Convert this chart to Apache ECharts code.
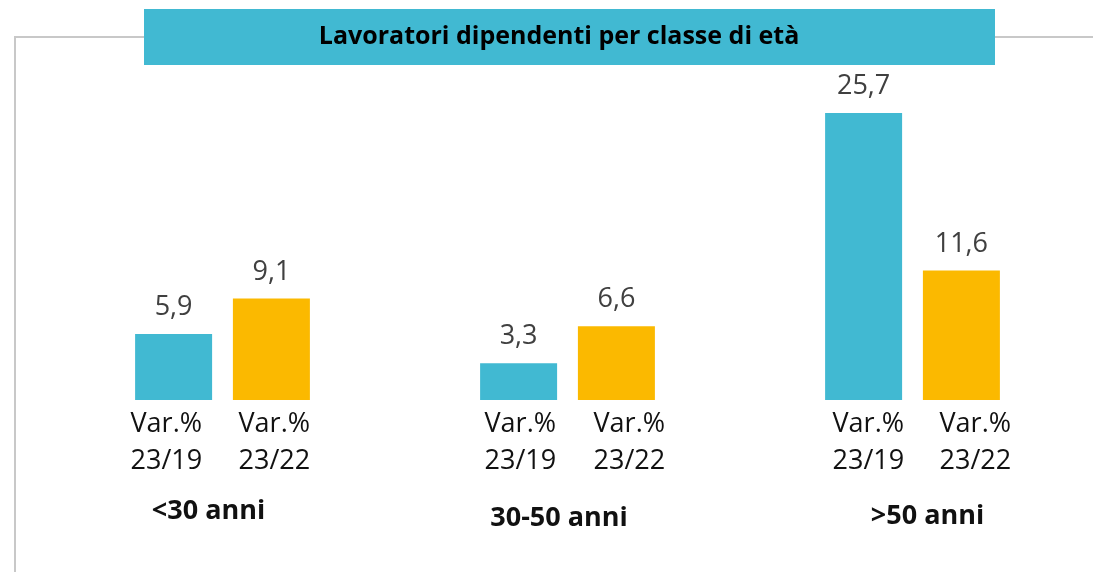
<!DOCTYPE html>
<html>
<head>
<meta charset="utf-8">
<script src="https://cdn.jsdelivr.net/npm/echarts@6/dist/echarts.min.js"></script>
<style>
  html, body { margin: 0; padding: 0; background: #fff; }
  #chart { width: 1093px; height: 572px; }
</style>
</head>
<body>
<div id="chart"></div>
<script>
// dati
const titleText = 'Lavoratori dipendenti per classe di età';
const categories = ['<30 anni', '30-50 anni', '>50 anni'];
const seriesNames = ['Var.%\n23/19', 'Var.%\n23/22'];
const var2319 = [5.9, 3.3, 25.7];
const var2322 = [9.1, 6.6, 11.6];

const TEAL = '#41B9D2';
const YELLOW = '#FBB900';
const FONT = 'Open Sans';

const chart = echarts.init(document.getElementById('chart'));

// etichetta del valore con la virgola decimale
const valueLabel = {
  show: true,
  position: 'top',
  distance: 13,
  fontFamily: FONT,
  fontSize: 27,
  color: '#404040',
  formatter: p => String(p.value).replace('.', ',')
};

// posizione delle colonne di testo sotto le barre, per gruppo
// [padding sinistro col. a, larghezza col. a, larghezza col. b]
const colLayout = [
  [6, 108, 82],
  [15, 109, 72],
  [18, 107, 71]
];
// spostamenti dei nomi di gruppo (come nell'originale)
const groupStyles = [
  { padding: [0, 28, 0, 0], lineHeight: 62 },
  { padding: [0, 17, 0, 0], lineHeight: 76 },
  { padding: [0, 0, 0, 30], lineHeight: 72 }
];

const txt = { fontFamily: FONT, fontSize: 27, color: '#111', lineHeight: 37, align: 'left' };
const rich = {};
colLayout.forEach((c, i) => {
  rich['a' + i] = Object.assign({}, txt, { padding: [0, 0, 0, c[0]], width: c[1] });
  rich['b' + i] = Object.assign({}, txt, { width: c[2] });
});
groupStyles.forEach((s, i) => {
  rich['g' + i] = Object.assign({ fontFamily: FONT, fontSize: 27, fontWeight: 'bold', color: '#111' }, s);
});

const option = {
  animation: false,
  grid: { left: 50, right: 8, top: 65, bottom: 172 },
  xAxis: {
    type: 'category',
    data: categories,
    axisLine: { show: false },
    axisTick: { show: false },
    axisLabel: {
      margin: 6,
      interval: 0,
      formatter: (val, idx) => {
        const a = seriesNames[0].split('\n');
        const b = seriesNames[1].split('\n');
        return '{a' + idx + '|' + a[0] + '}{b' + idx + '|' + b[0] + '}\n' +
               '{a' + idx + '|' + a[1] + '}{b' + idx + '|' + b[1] + '}\n' +
               '{g' + idx + '|' + val + '}';
      },
      rich: rich
    }
  },
  yAxis: {
    type: 'value',
    min: 0,
    max: 30,
    show: false,
    splitLine: { show: false }
  },
  series: [
    {
      name: seriesNames[0],
      type: 'bar',
      data: var2319,
      barWidth: 77,
      barGap: '27%',
      itemStyle: { color: TEAL },
      label: valueLabel
    },
    {
      name: seriesNames[1],
      type: 'bar',
      data: var2322,
      barWidth: 77,
      itemStyle: { color: YELLOW },
      label: valueLabel
    }
  ],
  graphic: [
    {
      type: 'polyline',
      z: 1,
      shape: { points: [[15, 572], [15, 37], [1093, 37]] },
      style: { stroke: '#C8C8C8', lineWidth: 2, fill: null }
    },
    {
      type: 'rect',
      z: 2,
      shape: { x: 144, y: 9, width: 851, height: 56 },
      style: { fill: TEAL }
    },
    {
      type: 'text',
      z: 3,
      x: 559,
      y: 37,
      style: {
        text: titleText,
        align: 'center',
        verticalAlign: 'middle',
        fontFamily: FONT,
        fontSize: 25,
        fontWeight: 'bold',
        fill: '#000'
      }
    }
  ]
};

chart.setOption(option);
</script>
</body>
</html>
